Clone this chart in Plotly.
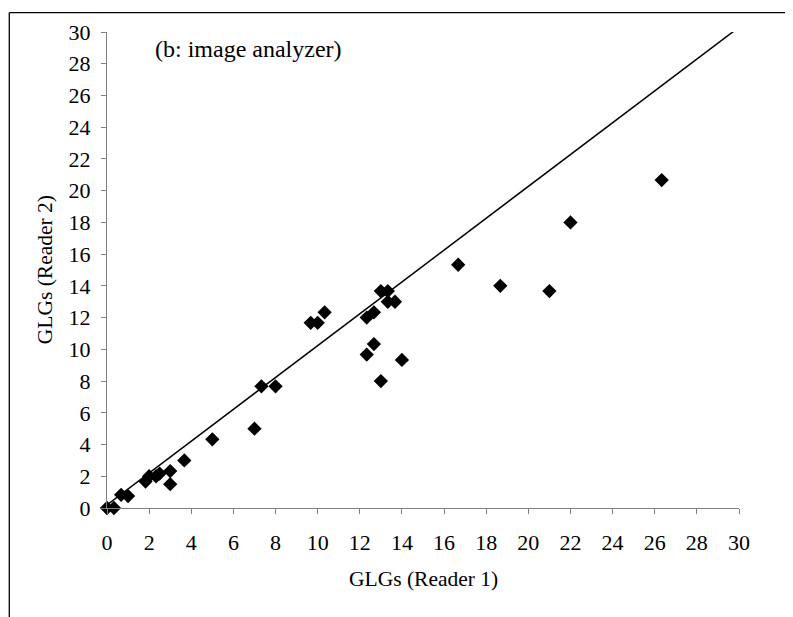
import plotly.graph_objects as go

reader1 = [0, 0.33, 0.67, 1.0, 1.83, 2.0, 2.33, 2.5, 3.0, 3.0, 3.67, 5.0, 7.0, 7.33, 8.0,
           9.67, 10.0, 10.33, 12.33, 12.67, 12.33, 12.67, 13.0, 13.0, 13.33, 13.33, 13.67,
           14.0, 16.67, 18.67, 21.0, 22.0, 26.33]
reader2 = [0, 0, 0.83, 0.75, 1.67, 2.0, 2.0, 2.17, 2.33, 1.5, 3.0, 4.33, 5.0, 7.67, 7.67,
           11.67, 11.67, 12.33, 12.0, 12.33, 9.67, 10.33, 8.0, 13.67, 13.67, 13.0, 13.0,
           9.33, 15.33, 14.0, 13.67, 18.0, 20.67]
fit_x = [0, 29.9]
fit_y = [0.2, 30.2]
ticks = list(range(0, 31, 2))

FONT = "Liberation Serif, Times New Roman, serif"
W, H = 793, 617
OFF = 8  # page offset of the figure
L, R, T, B = 106.5 - OFF, 62, 28.3 - OFF, 116.7
pw, ph = W - L - R, H - T - B

def px(xp):
    return (xp - OFF - L) / pw

def py(yp):
    return (H - B - (yp - OFF)) / ph

fig = go.Figure()
fig.add_trace(go.Scatter(x=reader1, y=reader2, mode="markers",
                         marker=dict(symbol="diamond", size=11, color="black",
                                     line=dict(width=0)),
                         showlegend=False, cliponaxis=False))
fig.add_trace(go.Scatter(x=fit_x, y=fit_y, mode="lines",
                         line=dict(color="black", width=1.5),
                         showlegend=False))

axis_common = dict(range=[0, 30], tickvals=ticks, ticktext=[str(t) for t in ticks],
                   showgrid=False, zeroline=False, showline=True, linecolor="#808080",
                   linewidth=1.3, ticks="outside", ticklen=5, tickcolor="#808080",
                   tickwidth=1.3, tickfont=dict(family=FONT, size=22, color="black"))
fig.update_xaxes(**axis_common, ticklabelstandoff=9)
fig.update_yaxes(**axis_common, ticklabelstandoff=6)

fig.add_annotation(text="(b: image analyzer)", x=px(153), y=py(45), xref="paper", yref="paper",
                   xanchor="left", yanchor="middle", showarrow=False,
                   font=dict(family=FONT, size=24, color="black"))
fig.add_annotation(text="GLGs (Reader 1)", x=px(423), y=py(580), xref="paper", yref="paper",
                   xanchor="center", yanchor="middle", showarrow=False,
                   font=dict(family=FONT, size=21.5, color="black"))
fig.add_annotation(text="GLGs (Reader 2)", x=px(44), y=py(268), xref="paper", yref="paper",
                   xanchor="center", yanchor="middle", showarrow=False, textangle=-90,
                   font=dict(family=FONT, size=21.5, color="black"))

# outer frame lines (left and top)
fig.add_shape(type="line", xref="paper", yref="paper", x0=px(OFF + 0.7), x1=px(OFF + 0.7),
              y0=py(OFF + 0.7), y1=py(H + 20), line=dict(color="black", width=1.3))
fig.add_shape(type="line", xref="paper", yref="paper", x0=px(OFF + 0.7), x1=px(W + 20),
              y0=py(OFF + 0.7), y1=py(OFF + 0.7), line=dict(color="black", width=1.3))

fig.update_layout(width=W, height=H, margin=dict(l=L, r=R, t=T, b=B),
                  plot_bgcolor="white", paper_bgcolor="white",
                  font=dict(family=FONT, color="black"))
fig.write_html("out.html")
